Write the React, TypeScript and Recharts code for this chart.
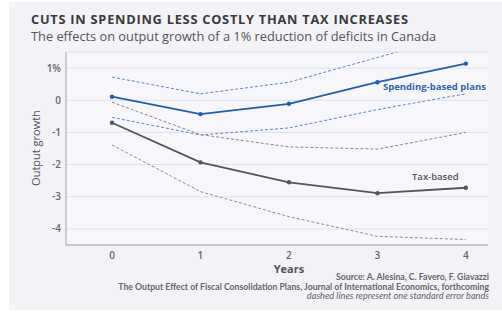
import { CartesianGrid, Line, LineChart, XAxis, YAxis } from "recharts";

const years = [0, 1, 2, 3, 4];
const spending = [0.11, -0.43, -0.11, 0.56, 1.14];
const spendingUpper = [0.72, 0.2, 0.56, 1.33, 2.1];
const spendingLower = [-0.53, -1.08, -0.86, -0.29, 0.2];
const tax = [-0.7, -1.93, -2.55, -2.89, -2.72];
const taxUpper = [-0.06, -1.07, -1.45, -1.52, -1.0];
const taxLower = [-1.39, -2.84, -3.62, -4.23, -4.33];
const yTicks = [-4, -3, -2, -1, 0, 1];

const BLUE = "#1f5eae";
const BLUE_DASH = "#5a86c8";
const GRAY = "#555555";
const GRAY_DASH = "#8a8a8a";
const FRAME = "#a2a2a8";
const FONT = "'Open Sans', sans-serif";

const rows = years.map((year, i) => ({
  year,
  spending: spending[i],
  spendingUpper: spendingUpper[i],
  spendingLower: spendingLower[i],
  tax: tax[i],
  taxUpper: taxUpper[i],
  taxLower: taxLower[i],
}));

const tickStyle = { fill: "#666", fontSize: 10, fontFamily: FONT, fontWeight: 600 };

export default function App() {
  return (
    <div
      style={{
        position: "absolute",
        left: 0,
        top: 0,
        width: 502,
        height: 325,
        background: "#ffffff",
        fontFamily: FONT,
      }}
    >
      <div
        style={{
          position: "absolute",
          left: 9,
          top: 2,
          width: 493,
          height: 308,
          background: "#f2f2f7",
        }}
      />
      <div
        style={{
          position: "absolute",
          left: 66,
          top: 52,
          width: 422,
          height: 193,
          background: "#f7f7fb",
        }}
      />
      <div
        style={{
          position: "absolute",
          left: 31,
          top: 12,
          fontSize: 12.8,
          lineHeight: "14px",
          fontWeight: 700,
          color: "#3a3a3a",
          letterSpacing: 0.75,
          whiteSpace: "nowrap",
        }}
      >
        CUTS IN SPENDING LESS COSTLY THAN TAX INCREASES
      </div>
      <div
        style={{
          position: "absolute",
          left: 31,
          top: 29,
          fontSize: 12.8,
          lineHeight: "14px",
          color: "#555",
          whiteSpace: "nowrap",
        }}
      >
        The effects on output growth of a 1% reduction of deficits in Canada
      </div>
      <div style={{ position: "absolute", left: 0, top: 0 }}>
        <LineChart
          width={502}
          height={325}
          data={rows}
          margin={{ top: 52, right: 14, left: 10, bottom: 50 }}
        >
          <CartesianGrid horizontal vertical={false} stroke="#e0e0e8" />
          <XAxis
            dataKey="year"
            type="number"
            domain={[-0.52, 4.25]}
            ticks={years}
            allowDataOverflow
            height={30}
            tickLine={false}
            axisLine={{ stroke: FRAME }}
            tickSize={0}
            tickMargin={7}
            tick={tickStyle}
          />
          {/* top edge of the frame */}
          <XAxis
            xAxisId="top"
            orientation="top"
            dataKey="year"
            type="number"
            domain={[-0.52, 4.25]}
            allowDataOverflow
            height={0}
            tick={false}
            tickLine={false}
            axisLine={{ stroke: FRAME }}
          />
          <YAxis
            type="number"
            domain={[-4.5, 1.5]}
            ticks={yTicks}
            allowDataOverflow
            width={56}
            tickLine={false}
            axisLine={{ stroke: FRAME }}
            tickSize={0}
            tickMargin={5}
            tick={tickStyle}
            tickFormatter={(v) => (v === 1 ? "1%" : String(v))}
          />
          {/* right edge of the frame */}
          <YAxis
            yAxisId="right"
            orientation="right"
            type="number"
            domain={[-4.5, 1.5]}
            allowDataOverflow
            width={0}
            tick={false}
            tickLine={false}
            axisLine={{ stroke: FRAME }}
          />
          <Line
            dataKey="spendingUpper"
            stroke={BLUE_DASH}
            strokeWidth={1}
            strokeDasharray="3 2"
            dot={false}
            isAnimationActive={false}
          />
          <Line
            dataKey="spendingLower"
            stroke={BLUE_DASH}
            strokeWidth={1}
            strokeDasharray="3 2"
            dot={false}
            isAnimationActive={false}
          />
          <Line
            dataKey="taxUpper"
            stroke={GRAY_DASH}
            strokeWidth={1}
            strokeDasharray="3 2"
            dot={false}
            isAnimationActive={false}
          />
          <Line
            dataKey="taxLower"
            stroke={GRAY_DASH}
            strokeWidth={1}
            strokeDasharray="3 2"
            dot={false}
            isAnimationActive={false}
          />
          <Line
            dataKey="tax"
            stroke={GRAY}
            strokeWidth={1.8}
            dot={{ r: 2.2, fill: GRAY, stroke: GRAY, strokeWidth: 0 }}
            isAnimationActive={false}
          />
          <Line
            dataKey="spending"
            stroke={BLUE}
            strokeWidth={1.8}
            dot={{ r: 2.2, fill: BLUE, stroke: BLUE, strokeWidth: 0 }}
            isAnimationActive={false}
          />
        </LineChart>
      </div>
      <div
        style={{
          position: "absolute",
          left: 383,
          top: 81,
          fontSize: 9.5,
          lineHeight: "12px",
          fontWeight: 700,
          color: "#2a64ae",
          whiteSpace: "nowrap",
        }}
      >
        Spending-based plans
      </div>
      <div
        style={{
          position: "absolute",
          left: 412,
          top: 171,
          fontSize: 9.5,
          lineHeight: "12px",
          fontWeight: 600,
          color: "#555",
          whiteSpace: "nowrap",
        }}
      >
        Tax-based
      </div>
      <div
        style={{
          position: "absolute",
          left: 35,
          top: 148,
          transform: "translate(-50%, -50%) rotate(-90deg)",
          fontSize: 11,
          lineHeight: "13px",
          color: "#555",
          whiteSpace: "nowrap",
        }}
      >
        Output growth
      </div>
      <div
        style={{
          position: "absolute",
          left: 289,
          top: 263,
          transform: "translateX(-50%)",
          fontSize: 11,
          lineHeight: "11px",
          fontWeight: 700,
          color: "#555",
        }}
      >
        Years
      </div>
      <div
        style={{
          position: "absolute",
          right: 13,
          top: 272,
          textAlign: "right",
          fontFamily: "Lato, sans-serif",
          fontSize: 8.7,
          lineHeight: "9.6px",
          color: "#666",
          whiteSpace: "nowrap",
        }}
      >
        <div style={{ fontWeight: 700 }}>Source: A. Alesina, C. Favero, F. Giavazzi</div>
        <div style={{ fontWeight: 700 }}>
          The Output Effect of Fiscal Consolidation Plans, Journal of International Economics, forthcoming
        </div>
        <div style={{ fontStyle: "italic", fontSize: 9.2 }}>
          dashed lines represent one standard error bands
        </div>
      </div>
    </div>
  );
}
